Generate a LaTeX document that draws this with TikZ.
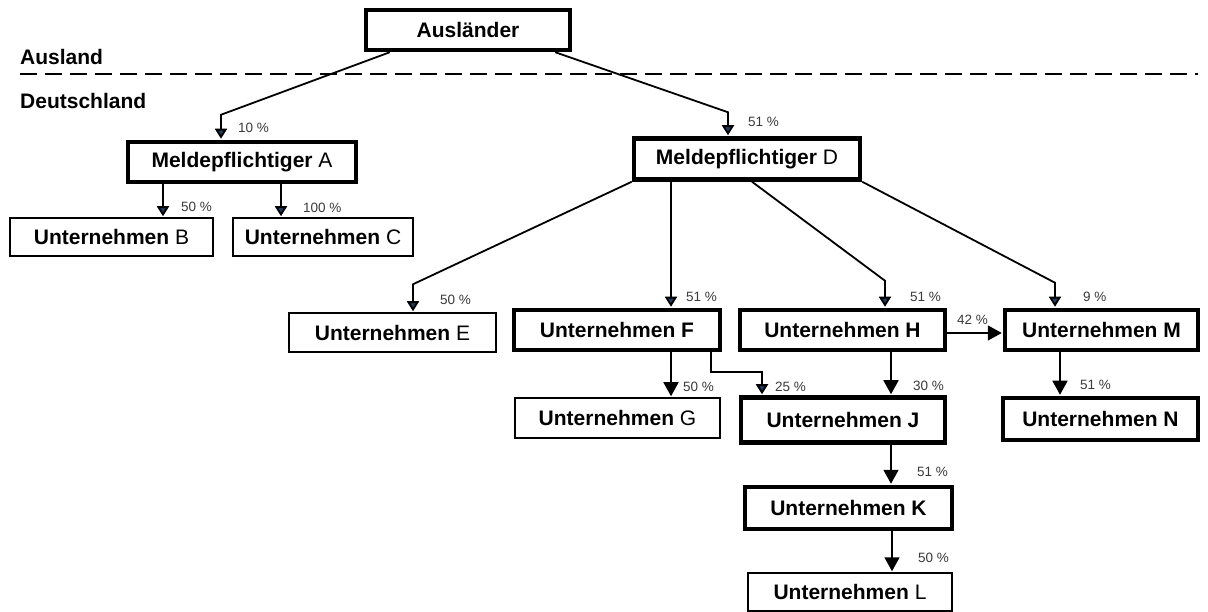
\documentclass[tikz,border=0pt]{standalone}
\usepackage{fontspec}
\setmainfont{Liberation Sans}
\usetikzlibrary{arrows.meta}
\definecolor{tipblue}{HTML}{1F3A5F}
\definecolor{pctgray}{HTML}{3A3A3A}
\begin{document}
\begin{tikzpicture}[
    x=1pt, y=-1pt,
    firm/.style={draw, line width=1.5pt, fill=white, inner sep=0pt,
                 font=\fontsize{21}{24}\selectfont},
    owner/.style={firm, line width=4.5pt},
    pct/.style={anchor=west, inner sep=0pt, text=pctgray,
                font=\fontsize{13.5}{15}\selectfont},
    region/.style={anchor=west, inner sep=0pt, font=\fontsize{21}{24}\selectfont\bfseries},
    link/.style={line width=1.8pt, shorten >=1pt,
                 -{Triangle[width=12pt,length=10pt,fill=tipblue]}},
    flow/.style={line width=1.8pt, shorten >=1pt, -{Triangle[width=15pt,length=14pt]}},
  ]
  \useasboundingbox (0,0) rectangle (1208,612);

  \node[region] (ausland) at (20,57)  {Ausland};
  \node[region] (inland)  at (20,101) {Deutschland};
  \coordinate (lineL) at (20,74);
  \coordinate (lineR) at (1198,74);
  \draw[line width=1.8pt, dash pattern=on 17pt off 8pt] (lineL) -- (lineR);

  \node[owner, minimum width=204, minimum height=40] (ausl)  at (468,30)    {\textbf{Ausländer}};
  \node[owner, minimum width=228, minimum height=40] (meldA) at (242,162)   {\textbf{Meldepflichtiger} A};
  \node[owner, minimum width=226, minimum height=41] (meldD) at (747,159)   {\textbf{Meldepflichtiger} D};
  \node[firm,  minimum width=203, minimum height=38] (untB)  at (111.5,237) {\textbf{Unternehmen} B};
  \node[firm,  minimum width=180, minimum height=38] (untC)  at (323,237)   {\textbf{Unternehmen} C};
  \node[firm,  minimum width=207, minimum height=39] (untE)  at (392.5,332.5) {\textbf{Unternehmen} E};
  \node[owner, minimum width=206, minimum height=40] (untF)  at (617,330)   {\textbf{Unternehmen F}};
  \node[owner, minimum width=205, minimum height=40] (untH)  at (842.5,330) {\textbf{Unternehmen H}};
  \node[owner, minimum width=193, minimum height=40] (untM)  at (1101.5,330) {\textbf{Unternehmen M}};
  \node[firm,  minimum width=205, minimum height=40] (untG)  at (617.5,418) {\textbf{Unternehmen} G};
  \node[owner, minimum width=204, minimum height=45] (untJ)  at (843,420)   {\textbf{Unternehmen J}};
  \node[owner, minimum width=195, minimum height=42] (untN)  at (1100.5,419) {\textbf{Unternehmen N}};
  \node[owner, minimum width=207, minimum height=42] (untK)  at (848.5,508) {\textbf{Unternehmen K}};
  \node[firm,  minimum width=204, minimum height=38] (untL)  at (850,592)   {\textbf{Unternehmen} L};

  \draw[link] ([xshift=26]ausl.south west) -- ([xshift=-21,yshift=25]meldA.north) -- ([xshift=-21]meldA.north);
  \draw[link] ([xshift=-17]ausl.south east) -- ([xshift=-19,yshift=24]meldD.north) -- ([xshift=-19]meldD.north);
  \draw[link] ([xshift=-79]meldA.south) -- ([xshift=51.5]untB.north);
  \draw[link] ([xshift=39]meldA.south) -- ([xshift=-42]untC.north);
  \draw[link] (meldD.south west) -- ([xshift=20.5,yshift=28]untE.north) -- ([xshift=20.5]untE.north);
  \draw[link] ([xshift=-76]meldD.south) -- ([xshift=54]untF.north);
  \draw[link] ([xshift=5]meldD.south) -- ([xshift=42.5,yshift=27]untH.north) -- ([xshift=42.5]untH.north);
  \draw[link] (meldD.south east) -- ([xshift=-46.5,yshift=25]untM.north) -- ([xshift=-46.5]untM.north);
  \draw[link] ([xshift=94]untF.south) -- ++(0,20) -| ([xshift=-81]untJ.north);
  \draw[flow] ([yshift=-3]untH.east) -- ([yshift=-3]untM.west);
  \draw[flow] ([xshift=54]untF.south) -- ([xshift=53.5]untG.north);
  \draw[flow] ([xshift=48.5]untH.south) -- ([xshift=48]untJ.north);
  \draw[flow] ([xshift=-41.5]untM.south) -- ([xshift=-40.5]untN.north);
  \draw[flow] ([xshift=48]untJ.south) -- ([xshift=42.5]untK.north);
  \draw[flow] ([xshift=43.5]untK.south) -- ([xshift=42]untL.north);

  \node[pct] (pA) at (238,128)  {10 \%};
  \node[pct] (pD) at (748,122)  {51 \%};
  \node[pct] (pB) at (181,207)  {50 \%};
  \node[pct] (pC) at (303,208)  {100 \%};
  \node[pct] (pE) at (440,300)  {50 \%};
  \node[pct] (pF) at (686,297)  {51 \%};
  \node[pct] (pH) at (910,297)  {51 \%};
  \node[pct] (pM) at (1083,297) {9 \%};
  \node[pct] (pHM) at (957,320) {42 \%};
  \node[pct] (pG) at (683,387)  {50 \%};
  \node[pct] (pFJ) at (775,387) {25 \%};
  \node[pct] (pHJ) at (913,386) {30 \%};
  \node[pct] (pN) at (1080,385) {51 \%};
  \node[pct] (pK) at (917,472)  {51 \%};
  \node[pct] (pL) at (918,558)  {50 \%};
\end{tikzpicture}
\end{document}
